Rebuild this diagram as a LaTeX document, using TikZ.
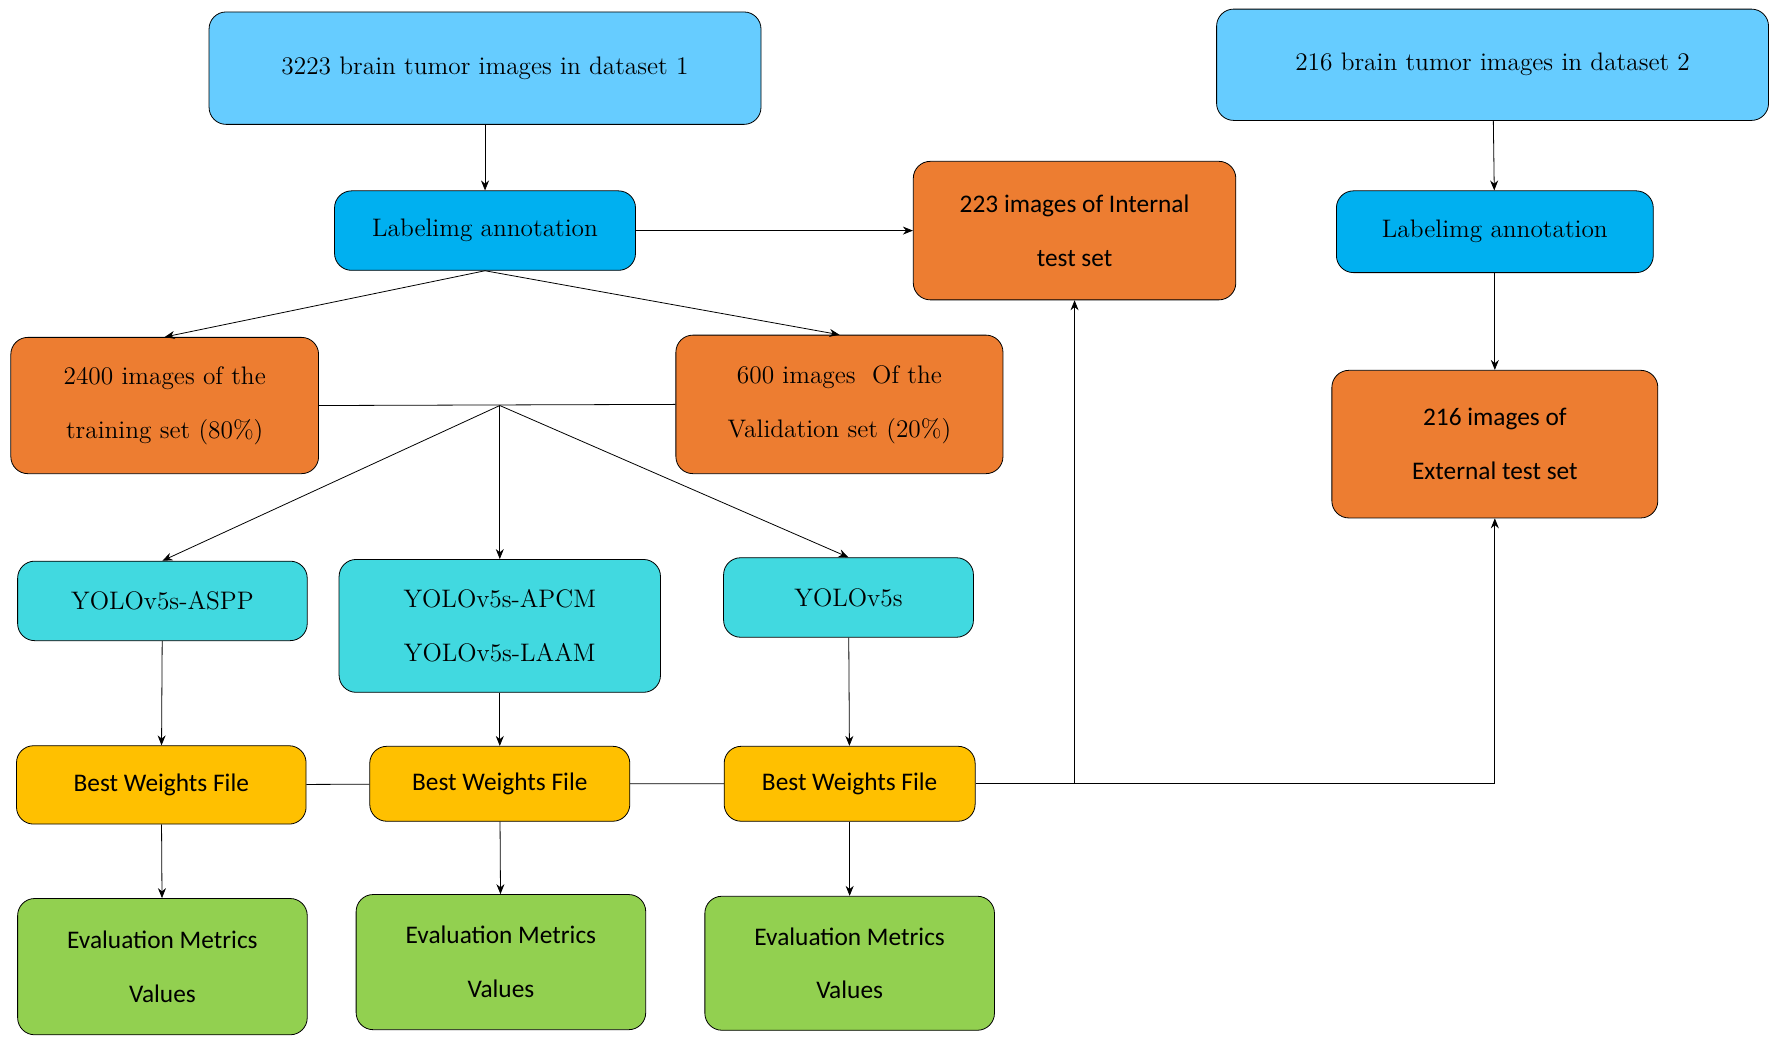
\documentclass[tikz,border=0pt]{standalone}
\usepackage{fontspec}
\newfontfamily\calib{Carlito}
\usepackage{tikz}
\usetikzlibrary{arrows.meta}
\definecolor{skyb}{HTML}{66CCFF}
\definecolor{labb}{HTML}{00B0F0}
\definecolor{orng}{HTML}{ED7D31}
\definecolor{cyanb}{HTML}{41D9E0}
\definecolor{gold}{HTML}{FFC000}
\definecolor{grn}{HTML}{92D050}
\tikzset{
  box/.style={draw=black,rounded corners=0.3cm,align=center,inner sep=0pt,
    font=\fontsize{12.7}{27}\selectfont},
  sans/.style={font=\calib\fontsize{12.7}{27}\selectfont},
  arr/.style={-{Stealth[length=5pt,width=4pt]},thin},
  ln/.style={thin}
}
\begin{document}
\begin{tikzpicture}[x=0.02cm,y=-0.02cm]
        \useasboundingbox (0,0) rectangle (1560,914);
        \node[box,fill=skyb,minimum width=9.72cm,minimum height=1.98cm](d1)at(427,60){3223 brain tumor images in dataset 1};
        \node[box,fill=skyb,minimum width=9.72cm,minimum height=1.96cm](d2)at(1314,57){216 brain tumor images in dataset 2};
        \node[box,fill=labb,minimum width=5.3cm,minimum height=1.4cm](lab1)at(427,203){Labelimg annotation};
        \node[box,fill=labb,minimum width=5.58cm,minimum height=1.44cm](lab2)at(1316,204){Labelimg annotation};
        \node[box,sans,fill=orng,minimum width=5.68cm,minimum height=2.44cm](int)at(946,203){223 images of Internal\\test set};
        \node[box,sans,fill=orng,minimum width=5.74cm,minimum height=2.6cm](ext)at(1316,391){216 images of\\External test set};
        \node[box,fill=orng,minimum width=5.42cm,minimum height=2.4cm](train)at(145,357){2400 images of the\\training set (80\%)};
        \node[box,fill=orng,minimum width=5.76cm,minimum height=2.44cm](val)at(739,356){600 images~ Of the\\Validation set (20\%)};
        \coordinate (hub) at (440,357);
        \node[box,fill=cyanb,minimum width=5.1cm,minimum height=1.4cm](aspp)at(143,529){YOLOv5s-ASPP};
        \node[box,fill=cyanb,minimum width=5.66cm,minimum height=2.34cm](apcm)at(440,551){YOLOv5s-APCM\\YOLOv5s-LAAM};
        \node[box,fill=cyanb,minimum width=4.4cm,minimum height=1.4cm](yolo)at(747,526){YOLOv5s};
        \node[box,sans,fill=gold,minimum width=5.1cm,minimum height=1.38cm](bw1)at(142,691){Best Weights File};
        \node[box,sans,fill=gold,minimum width=4.58cm,minimum height=1.32cm](bw2)at(440,690){Best Weights File};
        \node[box,sans,fill=gold,minimum width=4.42cm,minimum height=1.32cm](bw3)at(748,690){Best Weights File};
        \node[box,sans,fill=grn,minimum width=5.1cm,minimum height=2.4cm](ev1)at(143,851){Evaluation Metrics\\Values};
        \node[box,sans,fill=grn,minimum width=5.1cm,minimum height=2.38cm](ev2)at(441,847){Evaluation Metrics\\Values};
        \node[box,sans,fill=grn,minimum width=5.1cm,minimum height=2.36cm](ev3)at(748,848){Evaluation Metrics\\Values};
        % top part
        \draw[arr] (d1)--(lab1);
        \draw[arr] (d2)--(lab2);
        \draw[arr] (lab2)--(ext);
        \draw[arr] (lab1)--(int);
        \draw[arr] (lab1.south)--(train.north);
        \draw[arr] (lab1.south)--(val.north);
        \draw[ln] (train.east)--(val.west);
        % models
        \draw[arr] (hub)--(aspp.north);
        \draw[arr] (hub)--(apcm.north);
        \draw[arr] (hub)--(yolo.north);
        \draw[arr] (aspp)--(bw1);
        \draw[arr] (apcm)--(bw2);
        \draw[arr] (yolo)--(bw3);
        \draw[arr] (bw1)--(ev1);
        \draw[arr] (bw2)--(ev2);
        \draw[arr] (bw3)--(ev3);
        \draw[ln] (bw1)--(bw2)--(bw3);
        \draw[arr] (bw3.east)-|(int.south);
        \draw[arr] (bw3.east)-|(ext.south);
    \end{tikzpicture}
\end{document}
